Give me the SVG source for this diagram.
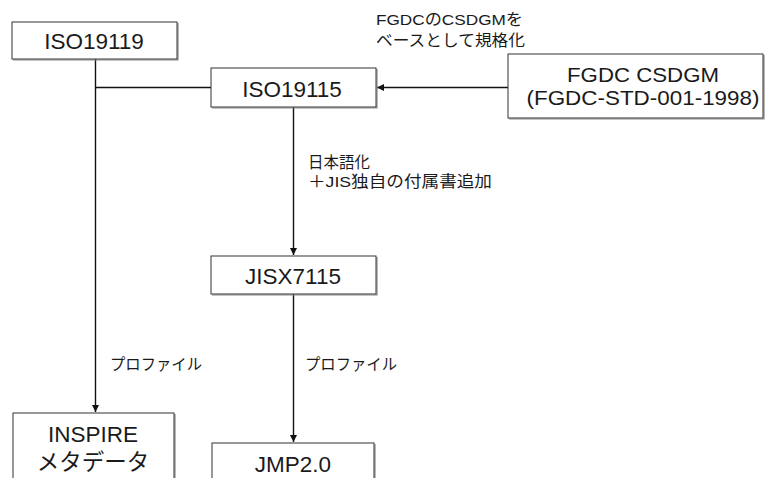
<svg xmlns="http://www.w3.org/2000/svg" width="770" height="478" viewBox="0 0 770 478">
<defs>
<style>
.box{fill:#ffffff;stroke:#333333;stroke-width:1}
.shd{fill:none;stroke:#8a8a8a;stroke-width:1.2}
.bt{font-family:"Liberation Sans","Noto Sans CJK JP",sans-serif;font-size:22.5px;fill:#1a1a1a;text-anchor:middle}
.bt2{font-family:"Liberation Sans","Noto Sans CJK JP",sans-serif;font-size:21px;fill:#1a1a1a;text-anchor:middle}
.lt{font-family:"Liberation Sans","Noto Sans CJK JP",sans-serif;font-size:15.5px;fill:#1a1a1a}
.ln{fill:none;stroke:#111111;stroke-width:1.4}
</style>
<marker id="ah" viewBox="0 0 10 10" refX="10" refY="5" markerWidth="7" markerHeight="7" markerUnits="userSpaceOnUse" orient="auto">
<path d="M0,0 L10,5 L0,10 z" fill="#111111"/>
</marker>
</defs>
<rect width="770" height="478" fill="#ffffff"/>
<g id="connectors">
<path class="ln" d="M95.5,59 V412" marker-end="url(#ah)"/>
<path class="ln" d="M95.5,87.5 H211"/>
<path class="ln" d="M508,87.5 H377" marker-end="url(#ah)"/>
<path class="ln" d="M293.5,107 V255" marker-end="url(#ah)"/>
<path class="ln" d="M293.5,294 V442" marker-end="url(#ah)"/>
</g>
<g id="label-fgdc">
<text class="lt" x="376" y="25" textLength="147" lengthAdjust="spacingAndGlyphs">FGDCのCSDGMを</text>
<text class="lt" x="376" y="46" textLength="149" lengthAdjust="spacingAndGlyphs">ベースとして規格化</text>
</g>
<g id="label-jis">
<text class="lt" x="308" y="168">日本語化</text>
<text class="lt" x="308" y="187" textLength="184" lengthAdjust="spacingAndGlyphs">＋JIS独自の付属書追加</text>
</g>
<g id="label-profile1"><text class="lt" x="110" y="370" textLength="92" lengthAdjust="spacingAndGlyphs">プロファイル</text></g>
<g id="label-profile2"><text class="lt" x="305" y="370" textLength="92" lengthAdjust="spacingAndGlyphs">プロファイル</text></g>
<g id="n-iso19119">
<path class="shd" d="M178,23 V60 H13"/>
<rect class="box" x="12" y="22" width="165" height="37"/>
<text class="bt" x="94" y="49">ISO19119</text>
</g>
<g id="n-iso19115">
<path class="shd" d="M377,69 V108 H212"/>
<rect class="box" x="211" y="68" width="165" height="39"/>
<text class="bt" x="292" y="97">ISO19115</text>
</g>
<g id="n-fgdc">
<path class="shd" d="M764,55 V119 H509"/>
<rect class="box" x="508" y="54" width="255" height="64"/>
<text class="bt2" x="643" y="82" textLength="152" lengthAdjust="spacingAndGlyphs">FGDC CSDGM</text>
<text class="bt2" x="643" y="105" textLength="233" lengthAdjust="spacingAndGlyphs">(FGDC-STD-001-1998)</text>
</g>
<g id="n-jisx7115">
<path class="shd" d="M377,257 V295 H212"/>
<rect class="box" x="211" y="256" width="165" height="38"/>
<text class="bt" x="293" y="284">JISX7115</text>
</g>
<g id="n-inspire">
<path class="shd" d="M175,414 V480"/>
<rect class="box" x="13" y="413" width="161" height="80"/>
<text class="bt" x="93" y="442">INSPIRE</text>
<text class="bt" x="93" y="470">メタデータ</text>
</g>
<g id="n-jmp">
<path class="shd" d="M375,444 V480"/>
<rect class="box" x="212" y="443" width="162" height="50"/>
<text class="bt" x="293" y="472">JMP2.0</text>
</g>
</svg>
